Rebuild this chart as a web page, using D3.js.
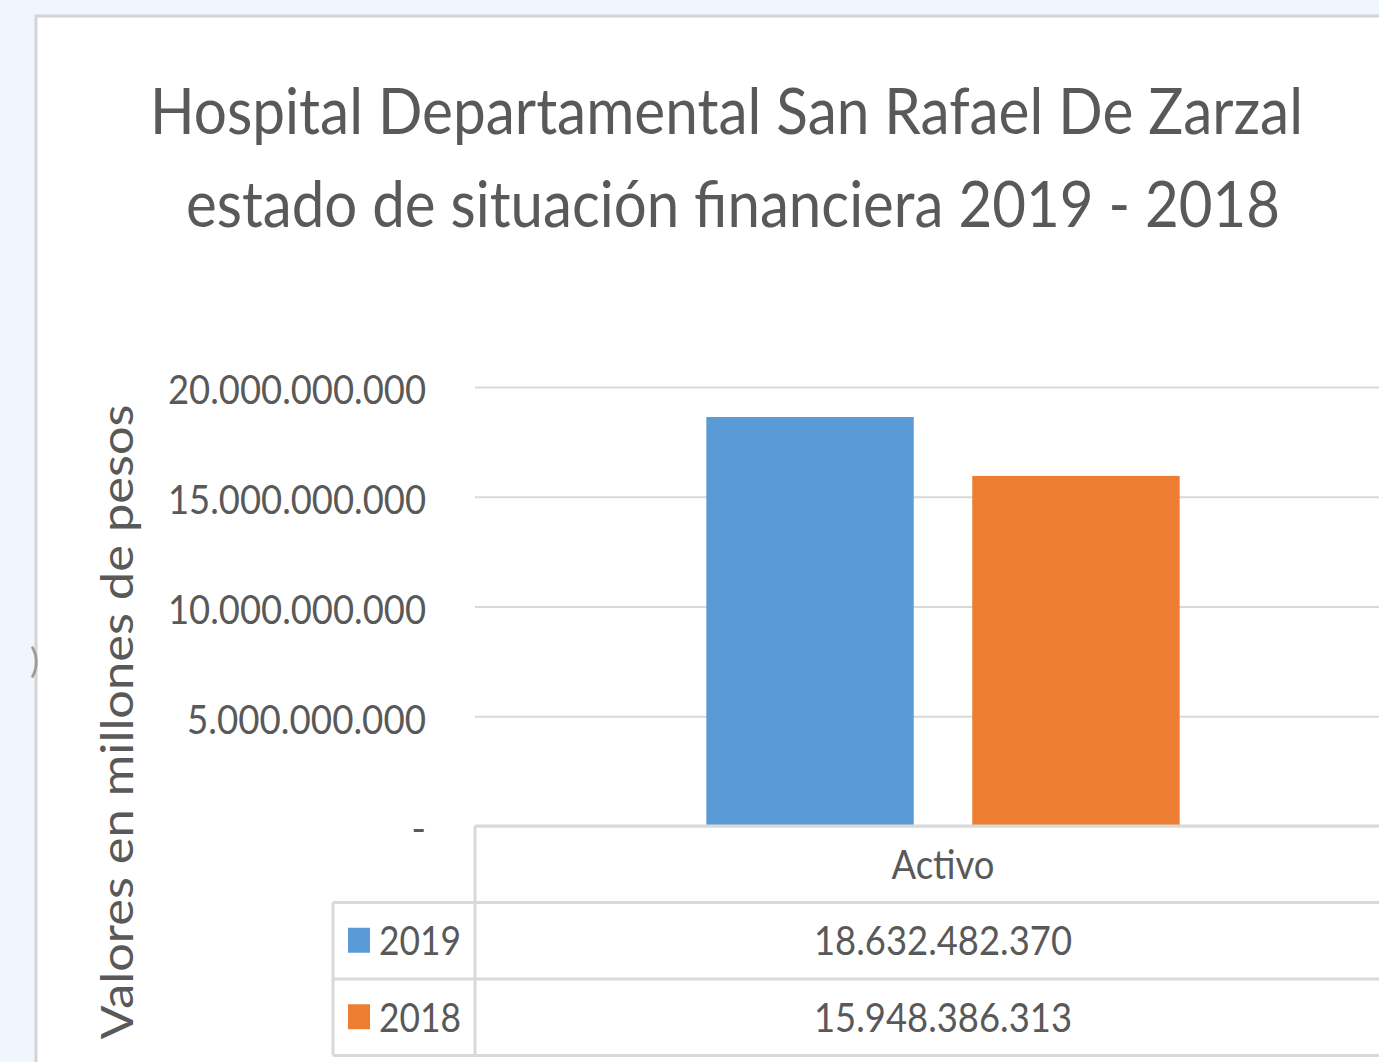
<!DOCTYPE html>
<html>
<head>
<meta charset="utf-8">
<script src="https://d3js.org/d3.v7.min.js"></script>
<style>
    html, body { margin: 0; padding: 0; background: #eff6fd; }
    svg { display: block; }
    text { font-family: Lato, "Open Sans", sans-serif; fill: #595959; }
</style>
</head>
<body>
<svg width="1379" height="1062"></svg>
<script>
    // data
    var titleLines = ['Hospital Departamental San Rafael De Zarzal', 'estado de situación financiera 2019 - 2018'];
    var categories = ['Activo'];
    var seriesNames = ['2019', '2018'];
    var seriesValues = [[18632482370], [15948386313]];
    var seriesColors = ['#5b9bd5', '#ed7d31'];
    var yTicks = [0, 5000000000, 10000000000, 15000000000, 20000000000];
    var yTitle = 'Valores en millones de  pesos';

    var W = 1379, H = 1062;
    var plotLeft = 475, plotRight = 1411, plotTop = 387, plotBottom = 826;
    var rowH = 76.5;

    var locale = d3.formatLocale({decimal: ',', thousands: '.', grouping: [3], currency: ['$', '']});
    var fmt = locale.format(',.0f');
    function tickFmt(d) { return d === 0 ? '-' : fmt(d); }

    var svg = d3.select('svg');

    // chart panel
    svg.append('rect')
        .attr('x', 36).attr('y', 16)
        .attr('width', W).attr('height', H)
        .attr('fill', '#fff')
        .attr('stroke', '#d4d4d4')
        .attr('stroke-width', 3);
    svg.append('text')
        .attr('x', 30).attr('y', 673)
        .style('font-size', '34px')
        .style('fill', '#9a9a9a')
        .text(')');

    // title
    svg.selectAll('.title')
        .data(titleLines)
        .enter()
        .append('text')
        .attr('class', 'title')
        .attr('x', function(d, i) { return i === 0 ? 150 : 186; })
        .attr('y', function(d, i) { return 134 + i * 93; })
        .attr('textLength', function(d, i) { return i === 0 ? 1153 : 1094; })
        .attr('lengthAdjust', 'spacingAndGlyphs')
        .style('font-size', '64px')
        .text(function(d) { return d; });

    var y = d3.scaleLinear()
        .domain([0, 20000000000])
        .range([plotBottom, plotTop]);

    var x0 = d3.scaleBand()
        .domain(categories)
        .range([plotLeft, plotRight]);

    var x1 = d3.scaleBand()
        .domain(seriesNames)
        .range([0, x0.bandwidth()])
        .paddingInner(0.22)
        .paddingOuter(0.87);

    // gridlines
    var grid = svg.append('g')
        .attr('transform', 'translate(' + plotLeft + ',0)')
        .call(d3.axisLeft(y).tickValues(yTicks).tickSize(-(W - plotLeft)).tickFormat(''));
    grid.select('.domain').remove();
    grid.selectAll('line').attr('stroke', '#d9d9d9').attr('stroke-width', 2);

    // y axis labels
    var yAxis = svg.append('g')
        .attr('transform', 'translate(426,0)')
        .call(d3.axisLeft(y).tickValues(yTicks).tickSize(0).tickPadding(0).tickFormat(tickFmt));
    yAxis.select('.domain').remove();
    yAxis.selectAll('text')
        .style('font-family', 'Lato, sans-serif')
        .style('font-size', '40px')
        .attr('fill', '#595959')
        .attr('dy', '0.42em')
        .attr('textLength', function(d) { return d === 0 ? null : (d >= 10000000000 ? 258 : 239); })
        .attr('lengthAdjust', 'spacingAndGlyphs');

    // y title
    svg.append('text')
        .attr('transform', 'translate(133,722) rotate(-90)')
        .attr('text-anchor', 'middle')
        .attr('textLength', 635)
        .attr('lengthAdjust', 'spacingAndGlyphs')
        .style('font-size', '44px')
        .text(yTitle);

    // bars
    seriesNames.forEach(function(s, si) {
        svg.append('g')
            .selectAll('rect')
            .data(categories)
            .enter()
            .append('rect')
            .attr('x', function(d) { return x0(d) + x1(s); })
            .attr('y', function(d, ci) { return y(seriesValues[si][ci]); })
            .attr('width', x1.bandwidth())
            .attr('height', function(d, ci) { return plotBottom - y(seriesValues[si][ci]); })
            .attr('fill', seriesColors[si]);
    });

    // data table
    var tbl = svg.append('g');
    var tableLeft = 333;
    var lineColor = '#d9d9d9';
    tbl.append('line')
        .attr('x1', plotLeft).attr('x2', W)
        .attr('y1', plotBottom).attr('y2', plotBottom)
        .attr('stroke', lineColor).attr('stroke-width', 3);
    tbl.append('line')
        .attr('x1', plotLeft).attr('x2', plotLeft)
        .attr('y1', plotBottom).attr('y2', plotBottom + rowH * 3)
        .attr('stroke', lineColor).attr('stroke-width', 3);
    [1, 2, 3].forEach(function(r) {
        tbl.append('line')
            .attr('x1', tableLeft).attr('x2', W)
            .attr('y1', plotBottom + rowH * r).attr('y2', plotBottom + rowH * r)
            .attr('stroke', lineColor).attr('stroke-width', 3);
    });
    tbl.append('line')
        .attr('x1', tableLeft).attr('x2', tableLeft)
        .attr('y1', plotBottom + rowH).attr('y2', plotBottom + rowH * 3)
        .attr('stroke', lineColor).attr('stroke-width', 3);

    tbl.selectAll('.cat')
        .data(categories)
        .enter()
        .append('text')
        .attr('x', function(d) { return x0(d) + x0.bandwidth() / 2; })
        .attr('y', plotBottom + rowH / 2)
        .attr('dy', '0.36em')
        .attr('text-anchor', 'middle')
        .attr('textLength', 103)
        .attr('lengthAdjust', 'spacingAndGlyphs')
        .style('font-size', '40px')
        .text(function(d) { return d; });

    seriesNames.forEach(function(s, si) {
        var cy = plotBottom + rowH * (si + 1) + rowH / 2;
        tbl.append('rect')
            .attr('x', 348).attr('y', cy - 13)
            .attr('width', 22).attr('height', 25)
            .attr('fill', seriesColors[si]);
        tbl.append('text')
            .attr('x', 379).attr('y', cy)
            .attr('dy', '0.36em')
            .attr('textLength', 82)
            .attr('lengthAdjust', 'spacingAndGlyphs')
            .style('font-size', '40px')
            .text(s);
        categories.forEach(function(c, ci) {
            tbl.append('text')
                .attr('x', x0(c) + x0.bandwidth() / 2)
                .attr('y', cy)
                .attr('dy', '0.36em')
                .attr('text-anchor', 'middle')
                .attr('textLength', 258)
                .attr('lengthAdjust', 'spacingAndGlyphs')
                .style('font-size', '40px')
                .text(fmt(seriesValues[si][ci]));
        });
    });
</script>
</body>
</html>
